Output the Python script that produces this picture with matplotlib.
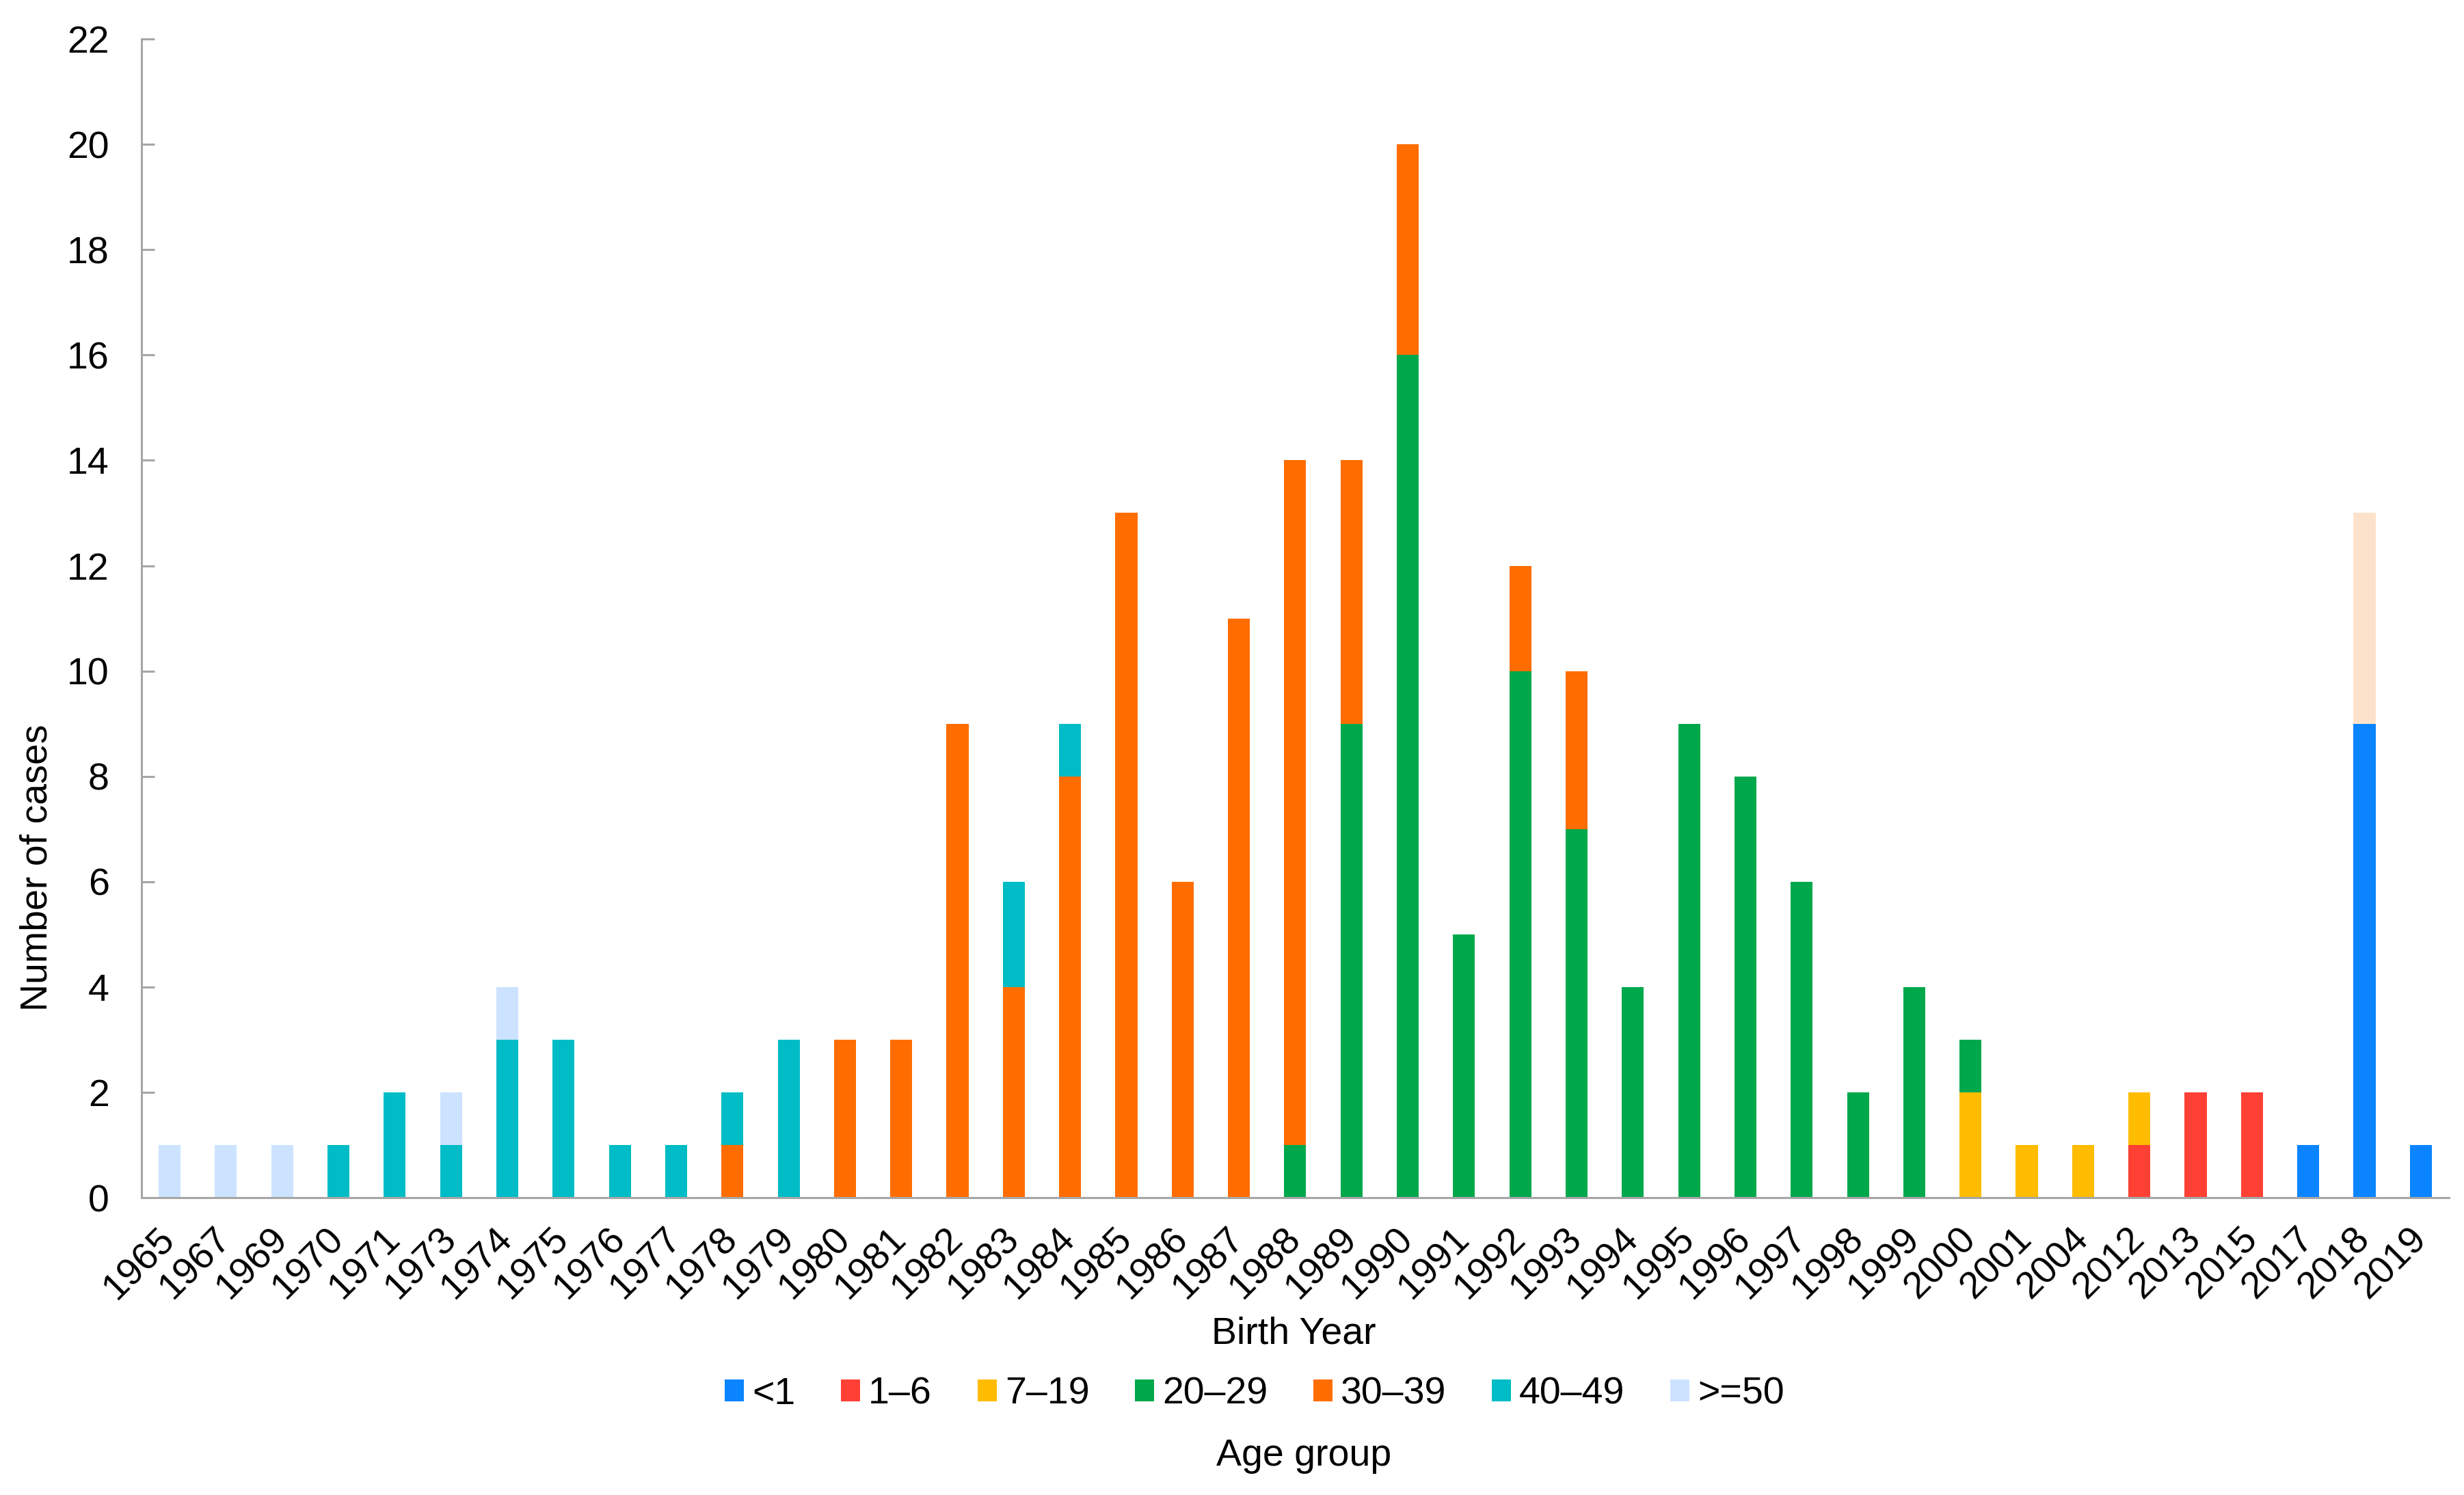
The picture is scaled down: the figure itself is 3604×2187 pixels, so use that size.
import matplotlib
matplotlib.use("Agg")
import matplotlib.pyplot as plt
import numpy as np

years = [1965, 1967, 1969, 1970, 1971, 1973, 1974, 1975, 1976, 1977, 1978, 1979,
         1980, 1981, 1982, 1983, 1984, 1985, 1986, 1987, 1988, 1989, 1990, 1991,
         1992, 1993, 1994, 1995, 1996, 1997, 1998, 1999, 2000, 2001, 2004, 2012,
         2013, 2015, 2017, 2018, 2019]

#                1965..1979                              1980..1991                         1992..2004                      2012..2019
age_lt1   = [0, 0, 0, 0, 0, 0, 0, 0, 0, 0, 0, 0,   0, 0, 0, 0, 0, 0, 0, 0, 0, 0, 0, 0,   0, 0, 0, 0, 0, 0, 0, 0, 0, 0, 0,   0, 0, 0, 1, 9, 1]
age_1_6   = [0, 0, 0, 0, 0, 0, 0, 0, 0, 0, 0, 0,   0, 0, 0, 0, 0, 0, 0, 0, 0, 0, 0, 0,   0, 0, 0, 0, 0, 0, 0, 0, 0, 0, 0,   1, 2, 2, 0, 0, 0]
age_7_19  = [0, 0, 0, 0, 0, 0, 0, 0, 0, 0, 0, 0,   0, 0, 0, 0, 0, 0, 0, 0, 0, 0, 0, 0,   0, 0, 0, 0, 0, 0, 0, 0, 2, 1, 1,   1, 0, 0, 0, 0, 0]
age_20_29 = [0, 0, 0, 0, 0, 0, 0, 0, 0, 0, 0, 0,   0, 0, 0, 0, 0, 0, 0, 0, 1, 9, 16, 5,  10, 7, 4, 9, 8, 6, 2, 4, 1, 0, 0,  0, 0, 0, 0, 0, 0]
age_30_39 = [0, 0, 0, 0, 0, 0, 0, 0, 0, 0, 1, 0,   3, 3, 9, 4, 8, 13, 6, 11, 13, 5, 4, 0, 2, 3, 0, 0, 0, 0, 0, 0, 0, 0, 0,   0, 0, 0, 0, 0, 0]
age_40_49 = [0, 0, 0, 1, 2, 1, 3, 3, 1, 1, 1, 3,   0, 0, 0, 2, 1, 0, 0, 0, 0, 0, 0, 0,   0, 0, 0, 0, 0, 0, 0, 0, 0, 0, 0,   0, 0, 0, 0, 0, 0]
age_ge50  = [1, 1, 1, 0, 0, 1, 1, 0, 0, 0, 0, 0,   0, 0, 0, 0, 0, 0, 0, 0, 0, 0, 0, 0,   0, 0, 0, 0, 0, 0, 0, 0, 0, 0, 0,   0, 0, 0, 0, 0, 0]
age_unk   = [0, 0, 0, 0, 0, 0, 0, 0, 0, 0, 0, 0,   0, 0, 0, 0, 0, 0, 0, 0, 0, 0, 0, 0,   0, 0, 0, 0, 0, 0, 0, 0, 0, 0, 0,   0, 0, 0, 0, 4, 0]

series = [
    ("<1", age_lt1, "#0A84FF"),
    ("1\u20136", age_1_6, "#FF4034"),
    ("7\u201319", age_7_19, "#FFBC00"),
    ("20\u201329", age_20_29, "#00A84C"),
    ("30\u201339", age_30_39, "#FF6D00"),
    ("40\u201349", age_40_49, "#00BCC6"),
    (">=50", age_ge50, "#CCE3FF"),
    ("_nolegend_", age_unk, "#FDE2CB"),
]

plt.rcParams['font.family'] = ['Liberation Sans', 'DejaVu Sans']

fig = plt.figure(figsize=(18.025, 10.935), dpi=200)
ax = fig.add_axes([0.0574, 0.1989, 0.9362, 0.775])

x = np.arange(len(years))
bottom = np.zeros(len(years))
for label, vals, color in series:
    v = np.array(vals, dtype=float)
    ax.bar(x, v, width=0.39, bottom=bottom, color=color, label=label, linewidth=0)
    bottom += v

ax.set_xlim(-0.5, len(years) - 0.5)
ax.set_ylim(0, 22)
ax.set_yticks(np.arange(0, 23, 2))
ax.set_xticks(x)
ax.set_xticklabels([str(y) for y in years], rotation=45, ha='right', va='center',
                   rotation_mode='anchor', fontsize=20)
for s in ['top', 'right']:
    ax.spines[s].set_visible(False)
for s in ['left', 'bottom']:
    ax.spines[s].set_color('#A6A6A6')
    ax.spines[s].set_linewidth(1.1)
ax.tick_params(axis='y', direction='in', length=7, width=1.1, color='#A6A6A6',
               labelsize=20, pad=17)
ax.tick_params(axis='x', length=0, pad=19)

fig.text(55 / 3605, 1 - 1269 / 2187, "Number of cases", rotation=90,
         ha='center', va='center', fontsize=20)
fig.text(0.525, 1 - 1952 / 2187, "Birth Year", ha='center', va='center', fontsize=20)
fig.text(0.529, 1 - 2130 / 2187, "Age group", ha='center', va='center', fontsize=20)

handles, labels = ax.get_legend_handles_labels()
fig.legend(handles, labels, loc='center', bbox_to_anchor=(0.509, 1 - 2040 / 2187),
           ncol=7, frameon=False, fontsize=20, handlelength=0.5, handleheight=0.5,
           handletextpad=0.22, columnspacing=1.2)

fig.savefig("out.png", dpi=200)
